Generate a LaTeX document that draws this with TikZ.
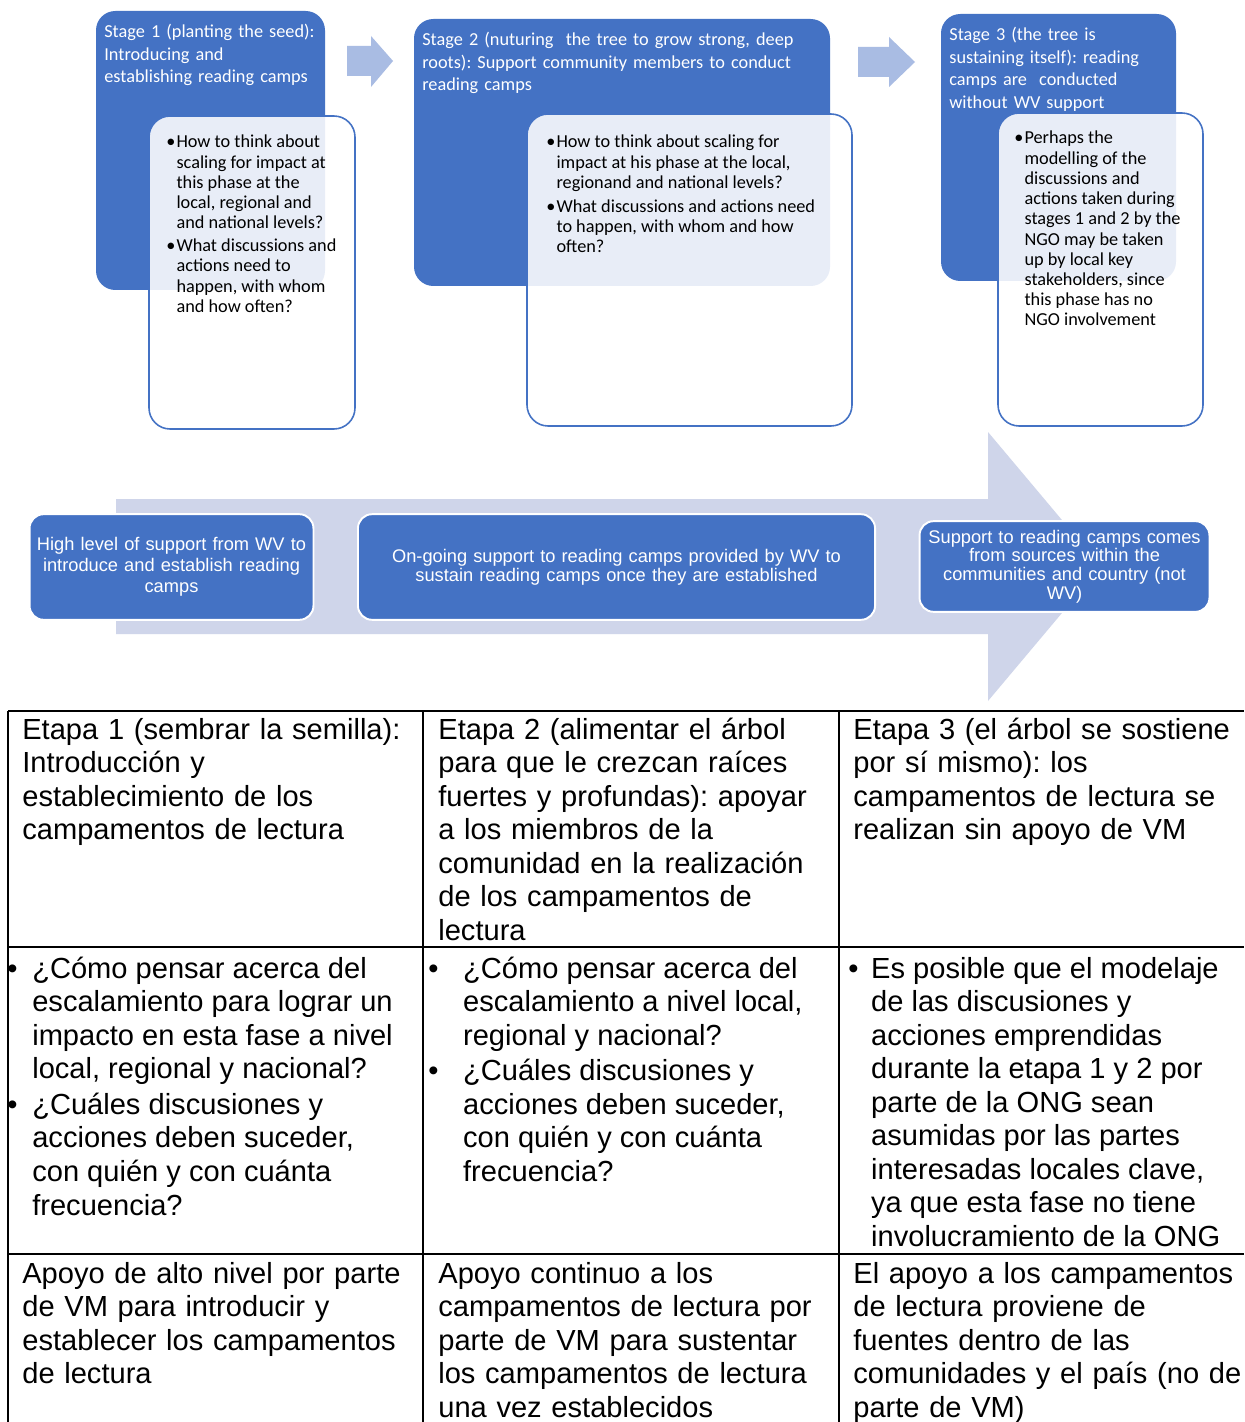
\documentclass[tikz,border=0pt]{standalone}
\usepackage{fontspec}
\newfontfamily\calibrifont{Carlito}
\newfontfamily\arialfont{Liberation Sans}
\definecolor{wvblue}{RGB}{68,114,196}
\definecolor{paleblue}{RGB}{207,213,234}
\definecolor{stepblue}{RGB}{169,188,227}
\newcommand{\bulletcol}[1]{\makebox[#1][l]{\textbullet}}
\frenchspacing

\begin{document}
\begin{tikzpicture}[x=0.02cm, y=-0.02cm]
\tikzset{
    stagebox/.style={fill=wvblue, rounded corners=11pt},
    notebox/.style={draw=wvblue, line width=0.9pt, fill=white, fill opacity=0.88, rounded corners=12pt},
    stagetext/.style={anchor=base west, inner sep=0pt, text=white, align=left, text width=260pt,
        font=\calibrifont\fontsize{10.4}{12.75}\selectfont},
    notetext/.style={anchor=base west, inner sep=0pt, font=\calibrifont\fontsize{10.4}{11.5}\selectfont},
    steparrow/.style={fill=stepblue},
    bigarrow/.style={fill=paleblue},
    supportbox/.style={fill=wvblue, draw=white, line width=1.1pt, rounded corners=8pt, text=white,
        inner sep=1pt, align=center, font=\arialfont\fontsize{10.4}{11.9}\selectfont},
    gridline/.style={line width=1.1pt},
    celltext/.style={anchor=base west, inner sep=0pt, align=left, text width=230pt,
        font=\arialfont\fontsize{16.55}{19.1}\selectfont},
    bullettext/.style={anchor=base west, inner sep=0pt, font=\arialfont\fontsize{16.55}{19.1}\selectfont}
}
\useasboundingbox (0,0) rectangle (1244,1422);
\fill[white] (0,0) rectangle (1244,1422);

% Stage 1: planting the seed
\path[stagebox] (96,11) rectangle (325,290);
\path[notebox] (149,116) rectangle (355,429);
\node[stagetext] (stageone) at (104,38) {Stage 1 (planting the seed):\\Introducing and\\establishing reading camps};
\node[notetext] (noteone) at (166,148) {\begin{tabular}[t]{@{}l@{}l@{}}
    \bulletcol{5.8pt} & How to think about\\
    & scaling for impact at\\
    & this phase at the\\
    & local, regional and\\
    & and national levels?\\[1.5pt]
    \bulletcol{5.8pt} & What discussions and\\
    & actions need to\\
    & happen, with whom\\
    & and how often?
\end{tabular}};

% Stage 2: nurturing the tree
\path[stagebox] (414,19) rectangle (830,286);
\path[notebox] (527,114) rectangle (852,426);
\node[stagetext] (stagetwo) at (422,46) {Stage 2 (nuturing\ \ the tree to grow strong, deep\\roots): Support community members to conduct\\reading camps};
\node[notetext] (notetwo) at (546,148) {\begin{tabular}[t]{@{}l@{}l@{}}
    \bulletcol{5.8pt} & How to think about scaling for\\
    & impact at his phase at the local,\\
    & regionand and national levels?\\[2pt]
    \bulletcol{5.8pt} & What discussions and actions need\\
    & to happen, with whom and how\\
    & often?
\end{tabular}};

% Stage 3: the tree sustains itself
\path[stagebox] (941,14) rectangle (1176,281);
\path[notebox] (998,113) rectangle (1203,426);
\node[stagetext] (stagethree) at (949,41) {Stage 3 (the tree is\\sustaining itself): reading\\camps are\ \ conducted\\without WV support};
\node[notetext] (notethree) at (1014,144) {\begin{tabular}[t]{@{}l@{}l@{}}
    \bulletcol{5.8pt} & Perhaps the\\
    & modelling of the\\
    & discussions and\\
    & actions taken during\\
    & stages 1 and 2 by the\\
    & NGO may be taken\\
    & up by local key\\
    & stakeholders, since\\
    & this phase has no\\
    & NGO involvement
\end{tabular}};

% arrows between the stages
\fill[steparrow] (347,46) -- (371,46) -- (371,36) -- (393,61) -- (371,87) -- (371,76) -- (347,76) -- cycle;
\fill[steparrow] (858,47) -- (889,47) -- (889,37) -- (915,62) -- (889,87) -- (889,77) -- (858,77) -- cycle;

% support along the way
\fill[bigarrow] (116,499) -- (988,499) -- (988,432) -- (1101,566.5) -- (988,701) -- (988,634) -- (116,634) -- cycle;
\node[supportbox, minimum width=161.6pt, minimum height=60.1pt, text width=159pt] (highsupport) at (171.5,567)
    {High level of support from WV to\\introduce and establish reading\\camps};
\node[supportbox, minimum width=294.3pt, minimum height=60.1pt, text width=290pt,
    font=\arialfont\fontsize{10.4}{10.8}\selectfont] (ongoingsupport) at (616.5,567)
    {On-going support to reading camps provided by WV to\\sustain reading camps once they are established};
\node[supportbox, minimum width=165pt, minimum height=51.6pt, text width=162pt,
    font=\arialfont\fontsize{10.4}{10.6}\selectfont] (localsupport) at (1064.5,566.5)
    {Support to reading camps comes\\from sources within the\\communities and country (not\\WV)};

% Spanish table
\draw[gridline] (8,711) -- (1244,711);
\draw[gridline] (8,947) -- (1244,947);
\draw[gridline] (8,1254) -- (1244,1254);
\draw[gridline] (8,711) -- (8,1422);
\draw[gridline] (423,711) -- (423,1422);
\draw[gridline] (839,711) -- (839,1422);

\node[celltext] (etapaone) at (22,739) {Etapa 1 (sembrar la semilla):\\Introducción y\\establecimiento de los\\campamentos de lectura};
\node[celltext] (etapatwo) at (438,739) {Etapa 2 (alimentar el árbol\\para que le crezcan raíces\\fuertes y profundas): apoyar\\a los miembros de la\\comunidad en la realización\\de los campamentos de\\lectura};
\node[celltext] (etapathree) at (853,739) {Etapa 3 (el árbol se sostiene\\por sí mismo): los\\campamentos de lectura se\\realizan sin apoyo de VM};

\node[bullettext] (preguntaone) at (7,978) {\begin{tabular}[t]{@{}l@{}l@{}}
    \bulletcol{14.2pt} & ¿Cómo pensar acerca del\\
    & escalamiento para lograr un\\
    & impacto en esta fase a nivel\\
    & local, regional y nacional?\\[1.2pt]
    \bulletcol{14.2pt} & ¿Cuáles discusiones y\\
    & acciones deben suceder,\\
    & con quién y con cuánta\\
    & frecuencia?
\end{tabular}};
\node[bullettext] (preguntatwo) at (428,978) {\begin{tabular}[t]{@{}l@{}l@{}}
    \bulletcol{19.8pt} & ¿Cómo pensar acerca del\\
    & escalamiento a nivel local,\\
    & regional y nacional?\\[1.2pt]
    \bulletcol{19.8pt} & ¿Cuáles discusiones y\\
    & acciones deben suceder,\\
    & con quién y con cuánta\\
    & frecuencia?
\end{tabular}};
\node[bullettext] (preguntathree) at (848,978) {\begin{tabular}[t]{@{}l@{}l@{}}
    \bulletcol{13pt} & Es posible que el modelaje\\
    & de las discusiones y\\
    & acciones emprendidas\\
    & durante la etapa 1 y 2 por\\
    & parte de la ONG sean\\
    & asumidas por las partes\\
    & interesadas locales clave,\\
    & ya que esta fase no tiene\\
    & involucramiento de la ONG
\end{tabular}};

\node[celltext] (apoyoone) at (22,1283) {Apoyo de alto nivel por parte\\de VM para introducir y\\establecer los campamentos\\de lectura};
\node[celltext] (apoyotwo) at (438,1283) {Apoyo continuo a los\\campamentos de lectura por\\parte de VM para sustentar\\los campamentos de lectura\\una vez establecidos};
\node[celltext] (apoyothree) at (853,1283) {El apoyo a los campamentos\\de lectura proviene de\\fuentes dentro de las\\comunidades y el país (no de\\parte de VM)};
\end{tikzpicture}
\end{document}
